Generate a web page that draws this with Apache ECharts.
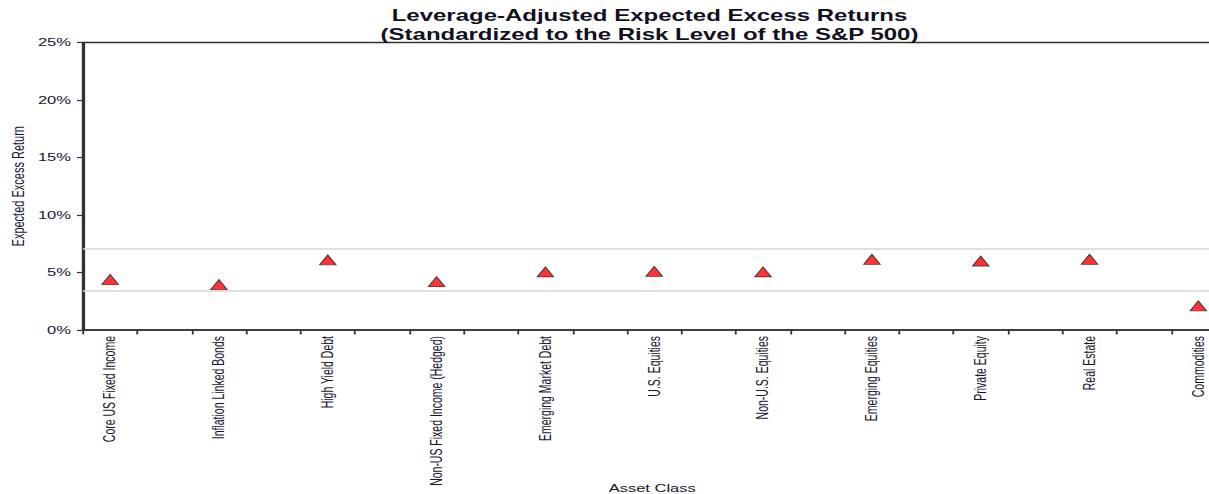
<!DOCTYPE html>
<html>
<head>
<meta charset="utf-8">
<title>Leverage-Adjusted Expected Excess Returns</title>
<script src="https://cdn.jsdelivr.net/npm/echarts@6/dist/echarts.min.js"></script>
<style>
  html, body { margin: 0; padding: 0; background: #fff; overflow: hidden; }
  /* The chart is laid out at a narrower width and widened horizontally. */
  #chart { width: 806px; height: 494px; transform: scaleX(1.5); transform-origin: 0 0; }
</style>
</head>
<body>
<div id="chart"></div>
<script>
// Asset classes along the x axis
const categories = [
  'Core US Fixed Income',
  'Inflation Linked Bonds',
  'High Yield Debt',
  'Non-US Fixed Income (Hedged)',
  'Emerging Market Debt',
  'U.S. Equities',
  'Non-U.S. Equities',
  'Emerging Equities',
  'Private Equity',
  'Real Estate',
  'Commodities'
];

// Expected excess return, in percent
const excessReturns = [4.4, 3.95, 6.1, 4.2, 5.05, 5.1, 5.05, 6.15, 6.0, 6.15, 2.1];

// Horizontal reference lines, in percent
const referenceLines = [7.07, 3.42];

// Y axis ticks
const yTicks = { min: 0, max: 25, interval: 5 };

const titleLines = [
  'Leverage-Adjusted Expected Excess Returns',
  '(Standardized to the Risk Level of the S&P 500)'
];

// Each asset class takes a slot followed by an empty spacer slot.
const slots = [];
const slotValues = [];
categories.forEach((c, i) => {
  slots.push(c); slotValues.push(excessReturns[i]);
  slots.push(''); slotValues.push(null);
});

const narrow = "'Liberation Sans Narrow', 'Arial Narrow', 'Liberation Sans', Arial, sans-serif";
const regular = "'Liberation Sans', Arial, sans-serif";
const axisColor = '#333333';
const textColor = '#161630';

const chart = echarts.init(document.getElementById('chart'), null, { renderer: 'svg' });

chart.setOption({
  backgroundColor: '#ffffff',
  animation: false,
  title: {
    text: titleLines.join('\n'),
    left: 428,
    top: 1,
    textAlign: 'center',
    textStyle: {
      fontFamily: regular,
      fontSize: 16,
      fontWeight: 'bold',
      lineHeight: 19,
      color: '#111122'
    }
  },
  grid: {
    left: 55.3,
    top: 42.5,
    width: 798,
    height: 287.5,
    show: true,
    borderColor: axisColor,
    borderWidth: 1.5,
    backgroundColor: 'transparent',
    outerBoundsMode: 'none',
    containLabel: false
  },
  xAxis: {
    type: 'category',
    data: slots,
    boundaryGap: true,
    name: 'Asset Class',
    nameLocation: 'middle',
    nameGap: 158,
    nameMoveOverlap: false,
    nameTextStyle: {
      fontFamily: regular,
      fontSize: 11,
      color: textColor,
      verticalAlign: 'middle',
      padding: [0, 39, 0, 0]
    },
    axisLine: { lineStyle: { color: axisColor, width: 1.5 } },
    axisTick: { show: true, interval: 0, length: 4.5, lineStyle: { color: axisColor, width: 1.2 } },
    axisLabel: {
      interval: 0,
      rotate: 90,
      margin: 6,
      fontFamily: narrow,
      fontSize: 10.5,
      color: textColor
    },
    splitLine: { show: false }
  },
  yAxis: {
    type: 'value',
    min: yTicks.min,
    max: yTicks.max,
    interval: yTicks.interval,
    name: 'Expected Excess Return',
    nameLocation: 'middle',
    nameGap: 43,
    nameMoveOverlap: false,
    nameTextStyle: { fontFamily: narrow, fontSize: 11, color: textColor, verticalAlign: 'middle' },
    axisLine: { show: true, lineStyle: { color: axisColor, width: 1.5 } },
    axisTick: { show: true, length: 4, lineStyle: { color: axisColor, width: 1.2 } },
    axisLabel: {
      margin: 8,
      formatter: '{value}%',
      fontFamily: regular,
      fontSize: 11,
      color: textColor
    },
    splitLine: { show: false }
  },
  series: [{
    type: 'scatter',
    data: slotValues,
    symbol: 'triangle',
    symbolSize: [11, 10],
    itemStyle: { color: '#ff0000', borderColor: '#222222', borderWidth: 0.8 },
    markLine: {
      silent: true,
      symbol: 'none',
      label: { show: false },
      lineStyle: { color: '#d6d6d6', width: 1.6, type: 'solid' },
      data: referenceLines.map(v => ({ yAxis: v }))
    },
    z: 3
  }]
});
</script>
</body>
</html>
